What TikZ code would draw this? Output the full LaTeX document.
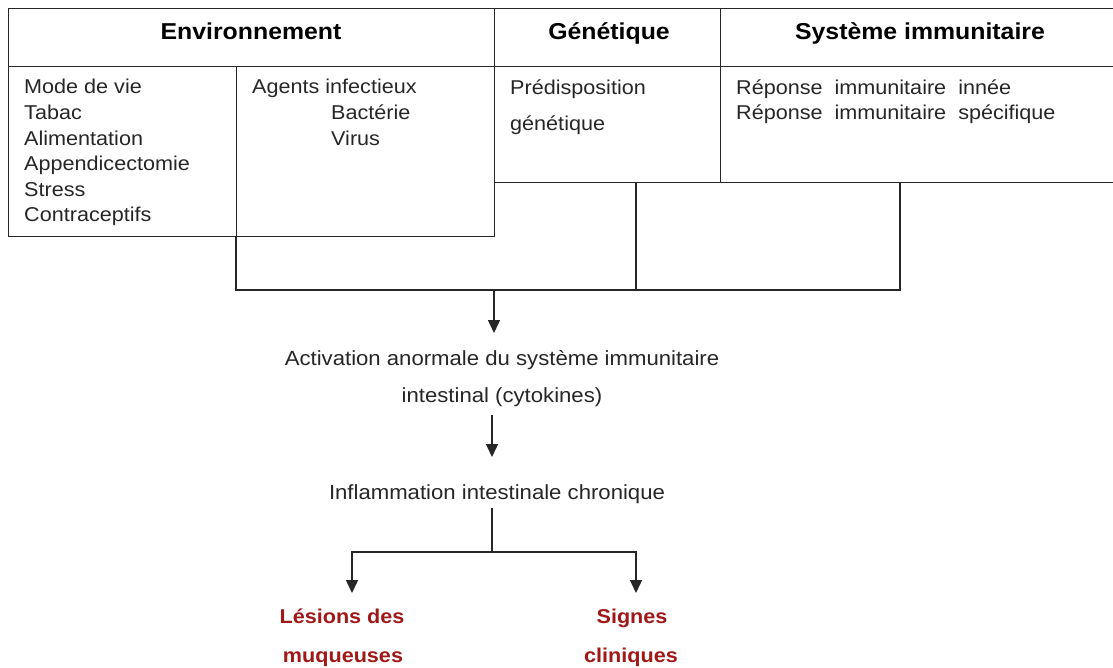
\documentclass[tikz,border=0pt]{standalone}
\usepackage{fontspec}
\setmainfont{Liberation Sans}
\newfontfamily\wfont[FakeStretch=1.08]{Liberation Sans}
\usetikzlibrary{arrows.meta}
\definecolor{lin}{HTML}{262626}
\definecolor{redtxt}{HTML}{A01818}
\tikzset{
  box/.style={draw=lin, line width=1.4pt, rectangle, inner sep=0pt},
  head/.style={inner sep=0pt, anchor=base, font=\wfont\fontsize{23}{27}\selectfont\bfseries, text=black},
  txt/.style={inner sep=0pt, anchor=base west, font=\wfont\fontsize{20}{24}\selectfont, text=black!85},
  ctxt/.style={inner sep=0pt, anchor=base, font=\wfont\fontsize{20.5}{24}\selectfont, text=black!85},
  rtxt/.style={inner sep=0pt, anchor=base, font=\wfont\fontsize{20}{24}\selectfont\bfseries, text=redtxt},
  conn/.style={draw=lin, line width=1.4pt},
  arr/.style={draw=lin, line width=1.4pt, -{Triangle[width=12pt,length=13pt]}}
}
\begin{document}
\begin{tikzpicture}[x=1pt,y=-1pt]
\useasboundingbox (0,0) rectangle (1113,668);
% header boxes
\node[box, minimum width=486pt, minimum height=58pt, anchor=north west] (envh) at (8,8) {};
\node[box, minimum width=226pt, minimum height=58pt, anchor=north west] (genh) at (494,8) {};
\node[box, minimum width=420pt, minimum height=58pt, anchor=north west] (sysh) at (720,8) {};
% body boxes
\node[box, minimum width=228pt, minimum height=170pt, anchor=north west] (modebox) at (8,66) {};
\node[box, minimum width=258pt, minimum height=170pt, anchor=north west] (agentbox) at (236,66) {};
\node[box, minimum width=226pt, minimum height=116pt, anchor=north west] (genbox) at (494,66) {};
\node[box, minimum width=420pt, minimum height=116pt, anchor=north west] (sysbox) at (720,66) {};
% header texts
\node[head] (th1) at (251,40) {Environnement};
\node[head] (th2) at (609,40) {Génétique};
\node[head] (th3) at (920,40) {Système immunitaire};
% body texts
\foreach \t [count=\i] in {Mode de vie, Tabac, Alimentation, Appendicectomie, Stress, Contraceptifs}
  \node[txt] (m\i) at (24,{94+25.6*(\i-1)}) {\t};
\node[txt] (a1) at (252,94) {Agents infectieux};
\node[txt] (a2) at (331,120) {Bactérie};
\node[txt] (a3) at (331,146) {Virus};
\node[txt] (g1) at (510,95) {Prédisposition};
\node[txt] (g2) at (510,131) {génétique};
\node[txt] (s1) at (736,95) {Réponse\ \ immunitaire\ \ innée};
\node[txt] (s2) at (736,120) {Réponse\ \ immunitaire\ \ spécifique};
% connectors from boxes
\coordinate (gd) at (636,182);
\coordinate (sd) at (900,182);
\coordinate (j1) at (494,290);
\draw[conn] (agentbox.south west) |- (j1) -| (sd);
\draw[conn] (gd) -- (gd |- j1);
% central flow
\node[ctxt] (act1) at (502,365) {Activation anormale du système immunitaire};
\node[ctxt] (act2) at (502,402) {intestinal (cytokines)};
\coordinate (t1) at (494,333);
\draw[arr] (j1) -- (t1);
\coordinate (c2a) at (492,415);
\coordinate (c2b) at (492,457);
\draw[arr] (c2a) -- (c2b);
\node[ctxt] (infl) at (497,499) {Inflammation intestinale chronique};
\coordinate (c3a) at (492,508);
\coordinate (c3b) at (492,552);
\coordinate (l1) at (352,593);
\coordinate (r1) at (636,593);
\draw[conn] (c3a) -- (c3b);
\draw[arr] (c3b) -| (l1);
\draw[arr] (c3b) -| (r1);
\node[rtxt] (les1) at (342,623) {Lésions des};
\node[rtxt] (les2) at (343,662) {muqueuses};
\node[rtxt] (sig1) at (632,623) {Signes};
\node[rtxt] (sig2) at (631,662) {cliniques};
\end{tikzpicture}
\end{document}
